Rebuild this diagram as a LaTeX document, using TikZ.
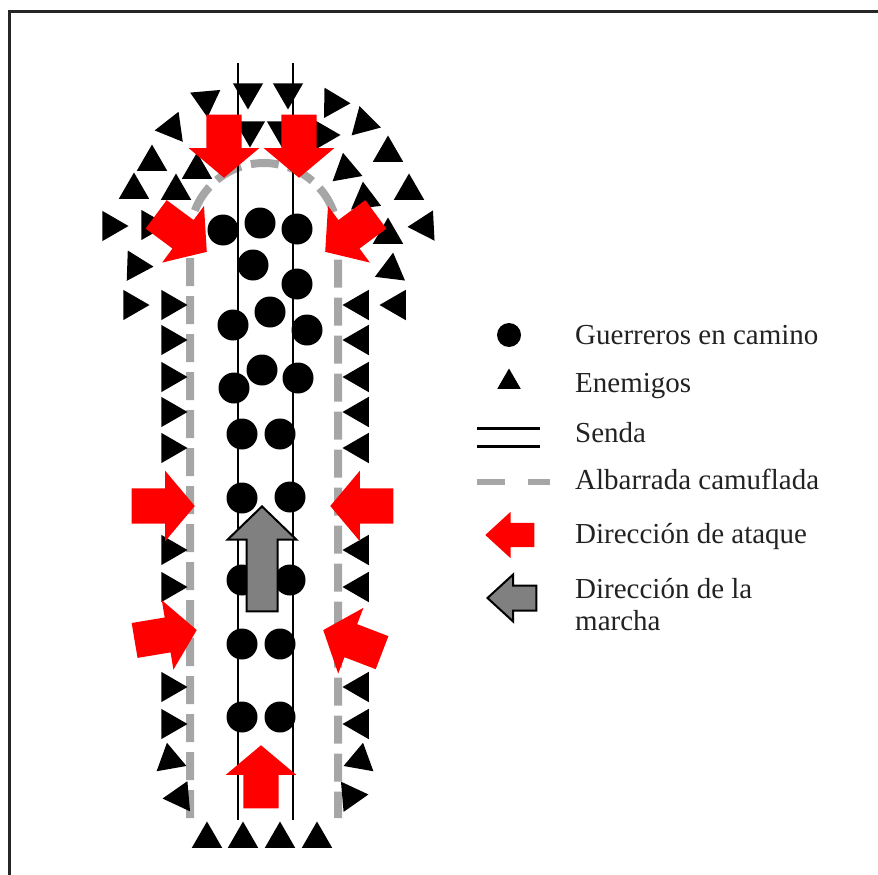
\documentclass[tikz,border=0pt]{standalone}
\usepackage{fontspec}
\setmainfont{Liberation Serif}
\usetikzlibrary{shapes.geometric, shapes.arrows}
\definecolor{atkred}{HTML}{FF0000}
\definecolor{marchgray}{HTML}{808080}
\definecolor{wallgray}{HTML}{A6A6A6}
\definecolor{txt}{HTML}{222222}
\tikzset{
  foe/.style    = {regular polygon, regular polygon sides=3, fill=black,
                   inner sep=0pt, minimum size=35},
  guy/.style    = {circle, fill=black, inner sep=0pt, minimum size=31},
  atk/.style    = {single arrow, fill=atkred, inner xsep=0pt, inner ysep=17.5,
                   anchor=tip, minimum height=63, minimum width=70,
                   single arrow head extend=17.5, single arrow tip angle=100},
  march/.style  = {single arrow, fill=marchgray, draw=black, line width=2pt,
                   inner xsep=0pt, inner ysep=14.5, anchor=tip,
                   minimum height=105, minimum width=67,
                   single arrow head extend=19, single arrow tip angle=92},
  senda/.style  = {line width=2.5pt, black},
  wall/.style   = {line width=8pt, wallgray, dash pattern=on 28pt off 10pt},
  frame/.style  = {line width=3pt, black!85},
  lab/.style    = {anchor=base west, align=left, text=txt, inner sep=0pt,
                   font=\fontsize{29}{32}\selectfont},
}

\begin{document}
\begin{tikzpicture}[x=1pt, y=-1pt]
\useasboundingbox (0,0) rectangle (878,875);
\draw[frame] (9,880) |- (880,12);

% =========================================================================
% Albarrada y senda
% =========================================================================
\draw[wall] (190,818) -- (190,237) arc[start angle=180, end angle=360, radius=74] -- (338,818);
\draw[senda] (238,63) -- (238,820);
\draw[senda] (293,63) -- (293,820);

% =========================================================================
% Enemigos
% =========================================================================
% flancos
\foreach \y [count=\i] in {305, 340, 377, 412, 448, 550, 587, 687, 724}
  \node[foe, rotate=-90] (el\i) at (170,\y) {};
\foreach \y [count=\i] in {305, 340, 377, 412, 448, 550, 587, 687, 724}
  \node[foe, rotate=90] (er\i) at (360,\y) {};
\node[foe, rotate=-110] (el10) at (170,760) {};
\node[foe, rotate=95]   (el11) at (180,797) {};
\node[foe, rotate=110]  (er10) at (360,760) {};
\node[foe, rotate=-85]  (er11) at (351,796) {};
\node[foe, rotate=-90]  (el0) at (132,305) {};
\node[foe, rotate=90]   (er0) at (397,305) {};

% cabecera
\foreach \x/\y/\r [count=\i] in {
    206/100/-175, 248/92/180, 288/92/180, 333/103/-91,
    250/130/180, 282/130/180, 323/135/-90,
    172/128/98, 152/162/0, 134/190/0, 176/191/0, 197/170/0,
    111/226/-90, 150/225/-90, 136/266/-92,
    364/123/15, 388/153/0, 409/191/0, 425/226/93, 391/270/-7,
    346/170/10, 365/199/7, 388/235/0}
  \node[foe, rotate=\r] (ed\i) at (\x,\y) {};

% cola
\foreach \x [count=\i] in {207, 243, 280, 317}
  \node[foe] (eb\i) at (\x,839) {};

% =========================================================================
% Guerreros
% =========================================================================
\foreach \x/\y [count=\i] in {
    223/230, 260/223, 297/229, 253/265, 297/284,
    233/325, 270/312, 307/330, 234/388, 262/370, 298/378,
    242/434, 280/434, 242/498, 290/497, 242/580, 290/580,
    242/644, 280/644, 242/717, 280/717}
  \node[guy] (g\i) at (\x,\y) {};

\node[march, rotate=90] (mar) at (262,505) {};

% =========================================================================
% Ataques
% =========================================================================
\node[atk, rotate=-90]    (a1) at (224,178) {};
\node[atk, rotate=-90]    (a2) at (299,178) {};
\node[atk, rotate=-36.5]  (a3) at (207,252) {};
\node[atk, rotate=-143.5] (a4) at (325,252) {};
\node[atk, rotate=0]      (a5) at (195,506) {};
\node[atk, rotate=180]    (a6) at (330,506) {};
\node[atk, rotate=9.5]    (a7) at (197,630) {};
\node[atk, rotate=159]    (a8) at (323,630) {};
\node[atk, rotate=90]     (a9) at (261,745) {};

% =========================================================================
% Leyenda
% =========================================================================
\node[guy, minimum size=24] (kguy) at (509,335) {};
\node[foe, minimum size=27] (kfoe) at (509,382) {};
\draw[senda, line width=3pt] (477,428) -- (540,428);
\draw[senda, line width=3pt] (477,446) -- (540,446);
\draw[wall, line width=6pt, dash pattern=on 28pt off 23pt] (477,482) -- (550,482);
\node[atk, rotate=180, inner ysep=12, minimum height=49, minimum width=46,
      single arrow head extend=11, single arrow tip angle=85] (katk) at (485,535) {};
\node[march, rotate=180, inner ysep=11.5, minimum height=49, minimum width=45,
      single arrow head extend=11, single arrow tip angle=85] (kmar) at (486,598) {};

\node[lab] (tguy)  at (575,344) {Guerreros en camino};
\node[lab] (tfoe)  at (575,392) {Enemigos};
\node[lab] (tsen)  at (575,442) {Senda};
\node[lab] (twall) at (575,489) {Albarrada camuflada};
\node[lab] (tatk)  at (575,543) {Dirección de ataque};
\node[lab] (tmar)  at (575,630) {Dirección de la\\marcha};

\end{tikzpicture}
\end{document}
